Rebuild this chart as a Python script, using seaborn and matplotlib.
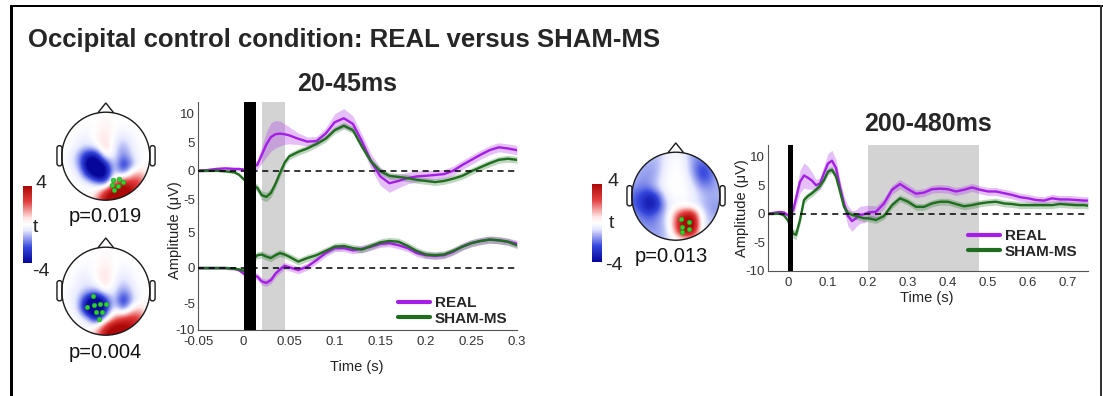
import numpy as np
import matplotlib
matplotlib.use("Agg")
import matplotlib.pyplot as plt
import seaborn as sns
from matplotlib.colors import LinearSegmentedColormap
from matplotlib.patches import Circle, Polygon, FancyBboxPatch, Rectangle
from matplotlib.lines import Line2D

# ---------------- data ----------------
conditions = ["REAL", "SHAM-MS"]
main_title = "Occipital control condition: REAL versus SHAM-MS"
window_titles = ["20-45ms", "200-480ms"]
p_labels = ["p=0.019", "p=0.004", "p=0.013"]
cbar_labels = ["4", "t", "-4"]

# left ERP (two electrode clusters), time in s, amplitude in uV
left_time = [-0.05, -0.04, -0.03, -0.02, -0.01, -0.005, 0.0,
             0.015, 0.02, 0.025, 0.03, 0.035, 0.04, 0.045, 0.05,
             0.06, 0.07, 0.08, 0.09, 0.10, 0.11, 0.12, 0.13, 0.14, 0.15,
             0.16, 0.17, 0.18, 0.19, 0.20, 0.21, 0.22, 0.23, 0.24, 0.25,
             0.26, 0.27, 0.28, 0.29, 0.30]
upper_real = [0.0, 0.1, 0.3, 0.4, 0.3, 0.3, 0.2,
              1.0, 2.8, 4.6, 5.9, 6.4, 6.5, 6.4, 6.2,
              5.6, 5.1, 5.2, 6.5, 8.5, 9.2, 8.2, 5.1, 1.6, -1.0,
              -2.2, -1.8, -1.3, -1.0, -0.9, -0.75, -0.6, 0.0, 1.0, 1.9,
              2.8, 3.6, 4.1, 3.9, 3.6]
upper_real_sem = [0.3, 0.3, 0.3, 0.3, 0.3, 0.3, 0.3,
                  0.8, 1.5, 2.2, 2.5, 2.4, 2.2, 1.8, 1.5,
                  1.0, 0.8, 0.8, 1.0, 1.5, 1.7, 1.4, 1.2, 1.3, 1.6,
                  1.6, 1.2, 1.0, 1.0, 0.9, 0.8, 0.8, 0.8, 0.8, 0.8,
                  0.8, 0.8, 0.8, 0.8, 0.8]
upper_sham = [0.0, 0.0, 0.0, -0.1, -0.3, -0.7, -1.5,
              -3.0, -4.3, -4.6, -3.9, -2.3, -0.4, 1.4, 2.5,
              3.3, 3.9, 4.7, 5.6, 7.1, 7.9, 7.1, 4.2, 1.6, -0.1,
              -0.9, -1.1, -1.3, -1.6, -1.8, -2.0, -1.8, -1.4, -0.9, -0.1,
              0.6, 1.3, 1.9, 2.1, 1.9]
upper_sham_sem = [0.2, 0.2, 0.2, 0.2, 0.2, 0.2, 0.3,
                  0.7, 0.8, 0.8, 0.8, 0.7, 0.7, 0.6, 0.6,
                  0.6, 0.6, 0.6, 0.6, 0.6, 0.6, 0.6, 0.6, 0.6, 0.6,
                  0.6, 0.6, 0.6, 0.6, 0.6, 0.6, 0.6, 0.6, 0.6, 0.6,
                  0.6, 0.6, 0.6, 0.6, 0.6]
lower_real = [0.0, 0.0, 0.0, 0.0, -0.1, -0.3, -0.8,
              -1.2, -1.9, -2.1, -1.7, -0.8, -0.2, 0.3, 0.1,
              -0.3, 0.2, 1.1, 2.1, 2.8, 2.8, 2.5, 2.7, 3.0, 3.4,
              3.5, 3.2, 2.8, 2.1, 1.8, 1.7, 1.8, 2.3, 3.0, 3.5,
              3.8, 4.0, 3.9, 3.7, 3.4]
lower_real_sem = [0.2, 0.2, 0.2, 0.2, 0.2, 0.2, 0.3,
                  0.5, 0.5, 0.5, 0.5, 0.5, 0.5, 0.5, 0.5,
                  0.5, 0.5, 0.5, 0.5, 0.5, 0.5, 0.5, 0.5, 0.5, 0.5,
                  0.5, 0.5, 0.5, 0.5, 0.5, 0.5, 0.5, 0.5, 0.5, 0.5,
                  0.5, 0.5, 0.5, 0.5, 0.5]
lower_sham = [0.0, 0.0, 0.0, 0.0, -0.1, -0.2, -0.4,
              1.8, 1.9, 1.6, 1.4, 1.8, 2.1, 1.9, 1.6,
              0.9, 1.4, 1.8, 2.4, 3.0, 3.1, 2.8, 2.6, 3.1, 3.6,
              3.8, 3.7, 3.1, 2.4, 1.9, 1.8, 1.9, 2.4, 3.0, 3.5,
              3.8, 4.0, 3.9, 3.7, 3.2]
lower_sham_sem = [0.2, 0.2, 0.2, 0.2, 0.2, 0.2, 0.3,
                  0.5, 0.5, 0.5, 0.5, 0.5, 0.5, 0.5, 0.5,
                  0.5, 0.5, 0.5, 0.5, 0.5, 0.5, 0.5, 0.5, 0.5, 0.5,
                  0.5, 0.5, 0.5, 0.5, 0.5, 0.5, 0.5, 0.5, 0.5, 0.5,
                  0.5, 0.5, 0.5, 0.5, 0.5]

# right ERP
right_time = [-0.05, -0.04, -0.03, -0.02, -0.01, 0.0, 0.013,
              0.02, 0.03, 0.04, 0.05, 0.06, 0.07, 0.08, 0.09, 0.10, 0.11,
              0.12, 0.13, 0.14, 0.15, 0.16, 0.17, 0.18, 0.19, 0.20,
              0.22, 0.24, 0.26, 0.28, 0.30, 0.32, 0.34, 0.36, 0.38, 0.40,
              0.42, 0.44, 0.46, 0.48, 0.50, 0.52, 0.54, 0.56, 0.58, 0.60,
              0.62, 0.64, 0.66, 0.68, 0.70, 0.72, 0.74, 0.75]
right_real = [0.0, 0.1, 0.2, 0.3, 0.2, -0.3, 0.6,
              2.7, 5.6, 6.7, 6.3, 5.8, 5.0, 5.3, 7.1, 8.8, 9.3,
              8.0, 4.7, 1.8, -0.4, -1.3, -0.8, -0.2, -0.1, 0.2,
              0.35, 1.8, 4.2, 5.2, 4.3, 3.5, 3.7, 4.3, 4.4, 4.3,
              3.9, 4.2, 4.6, 4.2, 3.9, 3.9, 3.6, 3.3, 2.9, 2.7,
              2.4, 2.3, 2.7, 2.5, 2.5, 2.4, 2.3, 2.3]
right_real_sem = [0.3, 0.3, 0.3, 0.3, 0.3, 0.3, 1.0,
                  1.5, 2.0, 2.2, 2.0, 1.5, 1.0, 1.0, 1.3, 1.8, 1.8,
                  1.5, 1.2, 1.3, 1.8, 1.8, 1.5, 1.5, 1.5, 1.3,
                  1.0, 0.9, 0.8, 0.8, 0.8, 0.7, 0.7, 0.7, 0.7, 0.7,
                  0.7, 0.7, 0.7, 0.7, 0.7, 0.7, 0.7, 0.7, 0.7, 0.7,
                  0.7, 0.7, 0.7, 0.7, 0.7, 0.7, 0.7, 0.7]
right_sham = [0.0, 0.0, 0.0, 0.0, -0.3, -1.2, -3.5,
              -3.7, -1.1, 2.4, 3.1, 3.6, 4.2, 4.9, 5.9, 7.4, 7.7,
              6.5, 3.9, 1.2, 0.1, -0.2, -0.4, -0.6, -0.8, -0.8,
              -1.1, -0.4, 1.5, 2.7, 2.1, 1.2, 1.2, 1.8, 2.1, 2.1,
              1.7, 1.3, 1.5, 1.8, 2.0, 2.1, 1.8, 1.7, 1.5, 1.5,
              1.5, 1.5, 1.5, 1.7, 1.6, 1.5, 1.5, 1.4]
right_sham_sem = [0.2, 0.2, 0.2, 0.2, 0.2, 0.3, 0.8,
                  0.9, 0.8, 0.7, 0.6, 0.6, 0.6, 0.6, 0.6, 0.6, 0.6,
                  0.6, 0.6, 0.6, 0.6, 0.6, 0.6, 0.6, 0.6, 0.6,
                  0.6, 0.6, 0.6, 0.6, 0.6, 0.6, 0.6, 0.6, 0.6, 0.6,
                  0.6, 0.6, 0.6, 0.6, 0.6, 0.6, 0.6, 0.6, 0.6, 0.6,
                  0.6, 0.6, 0.6, 0.6, 0.6, 0.6, 0.6, 0.6]

# stimulation artefact bar and significant windows (s)
left_pulse = [0.0, 0.014]
left_window = [0.02, 0.045]
right_pulse = [0.0, 0.013]
right_window = [0.2, 0.478]

left_xticks = [-0.05, 0, 0.05, 0.1, 0.15, 0.2, 0.25, 0.3]
left_xticklabels = ["-0.05", "0", "0.05", "0.1", "0.15", "0.2", "0.25", "0.3"]
upper_yticks = [-5, 0, 5, 10]
upper_yticklabels = ["-5", "0", "5", "10"]
lower_yticks = [-8.7, -5, 0, 5]
lower_yticklabels = ["-10", "-5", "0", "5"]
right_xticks = [0, 0.1, 0.2, 0.3, 0.4, 0.5, 0.6, 0.7]
right_xticklabels = ["0", "0.1", "0.2", "0.3", "0.4", "0.5", "0.6", "0.7"]
right_yticks = [-10, -5, 0, 5, 10]
right_yticklabels = ["-10", "-5", "0", "5", "10"]

# topographic t-maps on an 11x11 grid (x: -1..1 left->right, y: +1..-1 top->bottom)
topo_upper = [
    [0, 0, 0, 0, 0, 0, 0, 0, 0, 0, 0],
    [0, 0, 0, 0, 0, 0.3, 0, 0, 0, 0, 0],
    [0, 0, 0, -0.2, 0, 0.5, 0, -0.3, 0, 0, 0],
    [0, 0, -0.3, -0.4, 0.3, 0.8, -0.3, -0.8, -0.3, 0, 0],
    [0, 0, -0.6, -1.0, -0.5, 1.2, -0.5, -1.5, -0.5, 0, 0],
    [0, -0.3, -1.5, -4.0, -4.0, 0.0, -0.5, -2.0, -0.8, 0, 0],
    [0, -0.3, -1.2, -5.0, -5.5, -4.0, -0.3, -3.5, -1.5, 0, 0],
    [0, 0, -0.5, -3.0, -5.5, -4.5, -0.3, -1.5, 1.0, 1.5, 0],
    [0, 0, 0, -0.3, -1.2, -2.5, 2.0, 3.5, 3.0, 2.5, 0],
    [0, 0, 0, 0, 0.5, 3.0, 5.0, 5.0, 4.0, 2.0, 0],
    [0, 0, 0, 0, 1.5, 4.0, 5.0, 4.5, 3.0, 0, 0],
]
topo_lower = [
    [0, 0, 0, 0, 0, 0, 0, 0, 0, 0, 0],
    [0, 0, 0, 0, 0, 0.2, 0, 0, 0, 0, 0],
    [0, 0, 0, -0.2, 0, 0.4, 0, -0.2, 0, 0, 0],
    [0, 0, -0.3, -0.4, 0.2, 0.8, 0, -0.5, -0.2, 0, 0],
    [0, 0, -0.5, -0.6, 0, 0.8, -0.3, -1.0, -0.4, 0, 0],
    [0, -0.2, -0.6, -1.2, -1.5, 0, -0.5, -1.8, -0.8, 0, 0],
    [0, -0.2, -1.0, -4.0, -5.5, -3.0, -0.5, -3.5, -1.2, 0, 0],
    [0, 0, -1.0, -5.0, -6.0, -3.5, 0, -2.0, 0.5, 1.0, 0],
    [0, 0, 0, -1.0, -4.0, -1.0, 1.5, 2.5, 3.0, 2.5, 0],
    [0, 0, 0, 0, 0.3, 3.0, 4.5, 4.5, 4.0, 2.0, 0],
    [0, 0, 0, 0, 1.5, 4.0, 5.0, 4.5, 3.0, 0, 0],
]
topo_late = [
    [-1, -1, -1, -1, -0.5, -0.3, -0.5, -1.5, -1.5, -1, -1],
    [-1, -1, -1.2, -1.2, -0.3, 0, -0.3, -1.5, -2.0, -1.5, -1],
    [-1, -1.3, -1.5, -1.2, -0.2, 0, -0.2, -1.5, -2.8, -2.0, -1],
    [-1, -1.5, -1.5, -1.0, 0, 0, 0, -1.0, -2.5, -2.0, -1],
    [-1.5, -1.8, -1.8, -0.8, 0, 0, 0, -0.5, -1.5, -1.5, -1.2],
    [-2, -2.5, -3.5, -2.5, -0.3, 0, 0, -0.3, -1.0, -1.3, -1.2],
    [-2, -2.5, -4.0, -3.0, -0.8, -0.3, -0.3, -0.5, -1.0, -1.5, -1.5],
    [-1.5, -2, -2.5, -1.8, -0.8, 1.5, 3.5, 3.5, -0.5, -1.3, -1.5],
    [-1, -1.5, -1.8, -1.5, -0.8, 2.0, 5.0, 5.0, -0.3, -1, -1],
    [-1, -1.2, -1.5, -1.5, -1.0, 1.5, 4.5, 4.0, -0.5, -1, -1],
    [-1, -1, -1, -1.2, -1.0, -0.5, 0, 0, -0.8, -1, -1],
]
# significant electrodes (normalised head coordinates)
dots_upper_x = [0.17, 0.30, 0.40, 0.13, 0.28, 0.18]
dots_upper_y = [-0.54, -0.52, -0.58, -0.66, -0.68, -0.76]
dots_lower_x = [-0.30, -0.42, -0.27, -0.13, 0.0, -0.22, -0.09, -0.15]
dots_lower_y = [-0.12, -0.35, -0.31, -0.30, -0.29, -0.48, -0.47, -0.63]
dots_late_x = [0.12, 0.29, 0.15, 0.29, 0.14]
dots_late_y = [-0.51, -0.59, -0.69, -0.75, -0.81]

# ---------------- style ----------------
sns.set_theme(style="white")
plt.rcParams["font.family"] = ["Liberation Sans", "DejaVu Sans"]
PURPLE = "#a51ee6"
GREEN = "#1f6e1f"
SPINE = "#555555"
TICK = "#333333"

W, H = 1103, 396
fig = plt.figure(figsize=(W / 100, H / 100), dpi=100)
fig.patch.set_facecolor("white")


def fx(px):
    return px / W


def fy(py):
    return 1 - py / H


def add_ax(x0, y0, x1, y1):
    return fig.add_axes([fx(x0), fy(y1), (x1 - x0) / W, (y1 - y0) / H])


cmap = LinearSegmentedColormap.from_list(
    "tmap",
    [(0.0, "#06069a"), (0.2, "#3446dc"), (0.42, "#e6e9ff"), (0.5, "#ffffff"),
     (0.58, "#ffe6e6"), (0.8, "#e23c3c"), (1.0, "#ad0808")])


def draw_erp(ax, t, real, real_sem, sham, sham_sem, pulse, window):
    ax.axvspan(window[0], window[1], color="#d3d3d3", lw=0, zorder=0.5)
    for vals, sem, col in [(real, real_sem, PURPLE), (sham, sham_sem, GREEN)]:
        v = np.asarray(vals)
        s = np.asarray(sem)
        ax.fill_between(t, v - s, v + s, color=col, alpha=0.28, lw=0, zorder=1)
        sns.lineplot(x=t, y=v, ax=ax, color=col, linewidth=1.7, legend=False,
                     zorder=2)
    ax.axhline(0, color="black", lw=1.1, ls=(0, (4, 3)), zorder=3)
    ax.axvspan(pulse[0], pulse[1], color="black", lw=0, zorder=4)
    for side in ["top", "right"]:
        ax.spines[side].set_visible(False)
    for side in ["left", "bottom"]:
        ax.spines[side].set_color(SPINE)
        ax.spines[side].set_linewidth(0.8)
    ax.tick_params(direction="in", length=3, width=0.7, color=SPINE,
                   labelcolor=TICK, labelsize=9.5, pad=2)
    ax.set_xlabel("")
    ax.set_ylabel("")
    ax.patch.set_alpha(0)


# ---- left ERP: two stacked panels ----
ax_up = add_ax(198, 102, 517, 216)
ax_lo = add_ax(198, 216, 517, 330)
draw_erp(ax_up, left_time, upper_real, upper_real_sem, upper_sham,
         upper_sham_sem, left_pulse, left_window)
draw_erp(ax_lo, left_time, lower_real, lower_real_sem, lower_sham,
         lower_sham_sem, left_pulse, left_window)
for a in (ax_up, ax_lo):
    a.set_xlim(-0.05, 0.3)
ax_up.set_ylim(-7.95, 12.05)
ax_lo.set_ylim(-8.73, 7.32)
ax_up.spines["bottom"].set_visible(False)
ax_up.set_xticks([])
ax_up.set_yticks(upper_yticks)
ax_up.set_yticklabels(upper_yticklabels)
ax_lo.set_yticks(lower_yticks)
ax_lo.set_yticklabels(lower_yticklabels)
ax_lo.set_xticks(left_xticks)
ax_lo.set_xticklabels(left_xticklabels)
ax_lo.tick_params(axis="x", pad=4)

# ---- right ERP ----
ax_r = add_ax(768, 145, 1088, 271)
draw_erp(ax_r, right_time, right_real, right_real_sem, right_sham,
         right_sham_sem, right_pulse, right_window)
ax_r.set_xlim(-0.05, 0.75)
ax_r.set_ylim(-10.05, 12.05)
ax_r.set_xticks(right_xticks)
ax_r.set_xticklabels(right_xticklabels)
ax_r.set_yticks(right_yticks)
ax_r.set_yticklabels(right_yticklabels)
ax_r.tick_params(axis="x", pad=4)

# axis labels
fig.text(fx(175), fy(230), "Amplitude (\u03bcV)", rotation=90, ha="center",
         va="center", fontsize=10.5, color="#222222")
fig.text(fx(357), fy(367), "Time (s)", ha="center", va="center",
         fontsize=10.5, color="#222222")
fig.text(fx(742), fy(208), "Amplitude (\u03bcV)", rotation=90, ha="center",
         va="center", fontsize=10.5, color="#222222")
fig.text(fx(927), fy(298), "Time (s)", ha="center", va="center",
         fontsize=10.5, color="#222222")

# legends
handles = [Line2D([], [], color=PURPLE, lw=3), Line2D([], [], color=GREEN, lw=3)]
for (lx, ly) in [(398, 296), (968, 229)]:
    fig.legend(handles, conditions, loc="upper left",
               bbox_to_anchor=(fx(lx), fy(ly)), frameon=False,
               prop={"weight": "bold", "size": 11}, handlelength=2.1,
               handletextpad=0.3, labelspacing=0.12, borderpad=0,
               borderaxespad=0)


# ---- topographies ----
def draw_topo(cx, cy, r, grid, dx, dy):
    half = 1.3 * r
    ax = add_ax(cx - half, cy - half, cx + half, cy + half)
    ax.set_xlim(-1.3, 1.3)
    ax.set_ylim(-1.3, 1.3)
    ax.axis("off")
    im = ax.imshow(np.asarray(grid, dtype=float), cmap=cmap, vmin=-4, vmax=4,
                   extent=(-1.1, 1.1, -1.1, 1.1), origin="upper",
                   interpolation="bicubic", zorder=1)
    im.set_clip_path(Circle((0, 0), 1.0, transform=ax.transData))
    ax.add_patch(Circle((0, 0), 1.0, fill=False, ec="#1a1a1a", lw=1.0, zorder=3))
    ax.add_patch(Polygon([(-0.18, 0.985), (0, 1.21), (0.18, 0.985)],
                         closed=False, fill=False, ec="#1a1a1a", lw=1.0, zorder=3))
    for sx in (-1, 1):
        x0 = -1.12 if sx < 0 else 0.995
        ax.add_patch(FancyBboxPatch((x0 + 0.01, -0.22), 0.115, 0.46,
                                    boxstyle="round,pad=0,rounding_size=0.055",
                                    fill=False, ec="#1a1a1a", lw=1.0, zorder=3))
    sns.scatterplot(x=dx, y=dy, ax=ax, color="#2fd12f", edgecolor="#1a8a1a",
                    linewidth=0.3, s=12, zorder=5, legend=False)
    return ax


draw_topo(105.8, 156.2, 44, topo_upper, dots_upper_x, dots_upper_y)
draw_topo(105.8, 291.2, 44, topo_lower, dots_lower_x, dots_lower_y)
draw_topo(675.8, 196.2, 44, topo_late, dots_late_x, dots_late_y)

# colour bars
sm = plt.cm.ScalarMappable(cmap=cmap, norm=plt.Normalize(-4, 4))
for (x0, y0, x1, y1) in [(22.7, 186, 31.7, 262.7), (591.7, 184, 601.7, 261.7)]:
    cax = add_ax(x0, y0, x1, y1)
    cb = fig.colorbar(sm, cax=cax)
    cb.outline.set_visible(False)
    cb.set_ticks([])
for (tx, ty) in [(35, 184), (608, 181)]:
    fig.text(fx(tx), fy(ty), cbar_labels[0], ha="left", va="center", fontsize=14)
for (tx, ty) in [(33, 227), (609, 223)]:
    fig.text(fx(tx), fy(ty), cbar_labels[1], ha="left", va="center", fontsize=14)
for (tx, ty) in [(32, 271), (605, 265)]:
    fig.text(fx(tx), fy(ty), cbar_labels[2], ha="left", va="center", fontsize=14)

# p-values
for (tx, ty), lab in zip([(105, 217), (105, 353), (671, 257)], p_labels):
    fig.text(fx(tx), fy(ty), lab, ha="center", va="center", fontsize=14.5,
             color="#111111")

# titles
fig.text(fx(28), fy(40), main_title, ha="left", va="center", fontsize=18.5,
         fontweight="bold")
fig.text(fx(347), fy(84), window_titles[0], ha="center", va="center",
         fontsize=18, fontweight="bold")
fig.text(fx(928), fy(124), window_titles[1], ha="center", va="center",
         fontsize=18, fontweight="bold")

# frame of the panel
fig.add_artist(Rectangle((fx(10), 0), 3 / W, fy(5), transform=fig.transFigure,
                         color="black", lw=0))
fig.add_artist(Rectangle((fx(10), fy(7)), 1 - fx(10), 2.5 / H,
                         transform=fig.transFigure, color="black", lw=0))
fig.add_artist(Rectangle((fx(1100), 0), 1.5 / W, fy(5),
                         transform=fig.transFigure, color="#333333", lw=0))

fig.savefig("out.png", dpi=100, facecolor="white")
